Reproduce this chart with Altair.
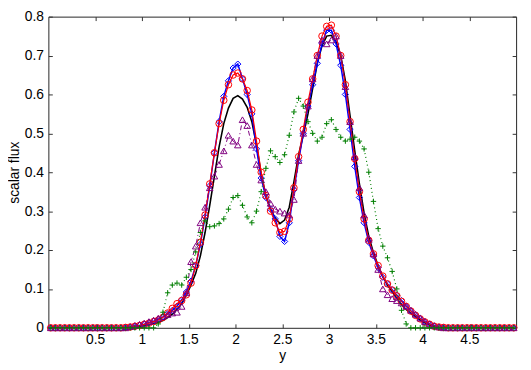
import altair as alt
import pandas as pd

# sample positions (cell centres)
x_pos = [round(0.025 + 0.05 * k, 3) for k in range(100)]

exact = [
    0, 0, 0, 0, 0, 0, 0, 0, 0, 0,
    0, 0, 0, 0, 0, 0, 0, 0.0, 0.002, 0.004,
    0.006, 0.008, 0.011, 0.014, 0.019, 0.026, 0.035, 0.048, 0.062, 0.084,
    0.11, 0.14, 0.185, 0.245, 0.315, 0.39, 0.465, 0.525, 0.565, 0.59,
    0.597, 0.588, 0.567, 0.53, 0.47, 0.395, 0.34, 0.305, 0.282, 0.268,
    0.277, 0.31, 0.375, 0.445, 0.495, 0.55, 0.615, 0.68, 0.725, 0.75,
    0.752, 0.735, 0.70, 0.635, 0.545, 0.455, 0.37, 0.295, 0.235, 0.193,
    0.16, 0.132, 0.11, 0.093, 0.076, 0.06, 0.047, 0.037, 0.029, 0.02,
    0.013, 0.007, 0.002, 0, 0, 0, 0, 0, 0, 0,
    0, 0, 0, 0, 0, 0, 0, 0, 0, 0,
]

blue_vals = [
    0, 0, 0, 0, 0, 0, 0, 0, 0, 0,
    0, 0, 0, 0, 0, 0, 0.001, 0.002, 0.003, 0.006,
    0.009, 0.013, 0.017, 0.022, 0.028, 0.036, 0.045, 0.056, 0.072, 0.092,
    0.12, 0.16, 0.215, 0.285, 0.365, 0.45, 0.53, 0.595, 0.635, 0.668,
    0.678, 0.64, 0.60, 0.55, 0.46, 0.385, 0.335, 0.305, 0.28, 0.235,
    0.222, 0.27, 0.355, 0.43, 0.5, 0.57, 0.625, 0.68, 0.73, 0.765,
    0.765, 0.73, 0.675, 0.6, 0.51, 0.415, 0.335, 0.27, 0.22, 0.185,
    0.155, 0.13, 0.113, 0.098, 0.084, 0.07, 0.056, 0.044, 0.033, 0.024,
    0.016, 0.01, 0.005, 0.002, 0.001, 0, 0, 0, 0, 0,
    0, 0, 0, 0, 0, 0, 0, 0, 0, 0,
]

red_vals = [
    0, 0, 0, 0, 0, 0, 0, 0, 0, 0,
    0, 0, 0, 0, 0, 0, 0.001, 0.002, 0.004, 0.006,
    0.009, 0.012, 0.016, 0.02, 0.027, 0.038, 0.05, 0.062, 0.07, 0.085,
    0.115, 0.16, 0.22, 0.29, 0.37, 0.45, 0.525, 0.585, 0.625, 0.65,
    0.655, 0.64, 0.61, 0.56, 0.48, 0.4, 0.34, 0.3, 0.27, 0.245,
    0.248, 0.28, 0.36, 0.44, 0.51, 0.58, 0.64, 0.7, 0.75, 0.775,
    0.778, 0.75, 0.7, 0.625, 0.53, 0.435, 0.35, 0.28, 0.225, 0.19,
    0.16, 0.133, 0.113, 0.097, 0.082, 0.068, 0.055, 0.043, 0.032, 0.023,
    0.015, 0.009, 0.004, 0.002, 0.001, 0, 0, 0, 0, 0,
    0, 0, 0, 0, 0, 0, 0, 0, 0, 0,
]

purple_vals = [
    0, 0, 0, 0, 0, 0, 0, 0, 0, 0,
    0, 0, 0, 0, 0, 0, 0, 0.003, 0.006, 0.009,
    0.012, 0.016, 0.02, 0.025, 0.03, 0.034, 0.038, 0.04, 0.055, 0.09,
    0.17, 0.21, 0.27, 0.31, 0.36, 0.39, 0.42, 0.455, 0.495, 0.48,
    0.47, 0.535, 0.52, 0.47, 0.42, 0.38, 0.35, 0.32, 0.305, 0.3,
    0.295, 0.29, 0.33, 0.43, 0.5, 0.57, 0.64, 0.7, 0.74, 0.73,
    0.74, 0.75, 0.7, 0.62, 0.53, 0.44, 0.36, 0.29, 0.23, 0.19,
    0.15, 0.1, 0.085, 0.075, 0.07, 0.064, 0.055, 0.045, 0.035, 0.025,
    0.016, 0.01, 0.005, 0.002, 0, 0, 0, 0, 0, 0,
    0, 0, 0, 0, 0, 0, 0, 0, 0, 0,
]

green_vals = [
    0, 0, 0, 0, 0, 0, 0, 0, 0, 0,
    0, 0, 0, 0, 0, 0, 0, 0, 0, 0,
    0, 0, 0, 0.01, 0.04, 0.09, 0.11, 0.115, 0.11, 0.13,
    0.15, 0.195, 0.245, 0.275, 0.26, 0.262, 0.268, 0.28, 0.305, 0.335,
    0.34, 0.315, 0.285, 0.27, 0.3, 0.35, 0.41, 0.455, 0.44, 0.425,
    0.445, 0.495, 0.555, 0.59, 0.57, 0.53, 0.5, 0.48, 0.49, 0.525,
    0.535, 0.51, 0.49, 0.48, 0.485, 0.49, 0.48, 0.46, 0.4, 0.325,
    0.255, 0.21, 0.18, 0.145, 0.1, 0.045, 0.01, 0, 0, 0,
    0, 0, 0, 0, 0, 0, 0, 0, 0, 0,
    0, 0, 0, 0, 0, 0, 0, 0, 0, 0,
]

x_ticks = [0.5, 1, 1.5, 2, 2.5, 3, 3.5, 4, 4.5]
y_ticks = [0, 0.1, 0.2, 0.3, 0.4, 0.5, 0.6, 0.7, 0.8]

FONT = "Liberation Sans"
xs = alt.Scale(domain=[0, 5], nice=False, zero=False)
ys = alt.Scale(domain=[0, 0.8], nice=False, zero=False)

PLUS = "M-1,0L1,0M0,-1L0,1"


def frame(vals):
    return pd.DataFrame({"x": x_pos, "v": vals})


def enc(xaxis=None, yaxis=None):
    return dict(
        x=alt.X("x:Q", scale=xs, axis=xaxis),
        y=alt.Y("v:Q", scale=ys, axis=yaxis),
    )


def line_layer(vals, color, width, dash=None, **ax):
    kw = dict(color=color, strokeWidth=width, clip=True)
    if dash is not None:
        kw["strokeDash"] = dash
    return alt.Chart(frame(vals)).mark_line(**kw).encode(**enc(**ax))


def point_layer(vals, color, shape, size):
    return alt.Chart(frame(vals)).mark_point(
        shape=shape, size=size, color=color, filled=False, strokeWidth=1, opacity=1
    ).encode(**enc())


common = dict(
    tickSize=4, offset=-4, domain=False, grid=False, tickColor="#333333",
    labelFont=FONT, titleFont=FONT, labelFontSize=14, titleFontSize=14,
    titleFontWeight="normal", labelColor="black", titleColor="black",
    labelFlush=False, labelOverlap=False,
)

bottom_axis = alt.Axis(orient="bottom", values=x_ticks, format="~g", title="y",
                       labelPadding=5, titlePadding=2, **common)
left_axis = alt.Axis(orient="left", values=y_ticks, format="~g", title="scalar flux",
                     labelPadding=5, titlePadding=3, **common)
top_axis = alt.Axis(orient="top", values=x_ticks, labels=False, title=None, **common)
right_axis = alt.Axis(orient="right", values=y_ticks, labels=False, title=None, **common)

axes_a = line_layer(exact, "black", 1.6, xaxis=bottom_axis, yaxis=left_axis)
axes_b = alt.Chart(frame(exact)).mark_point(opacity=0).encode(**enc(xaxis=top_axis, yaxis=right_axis))

layers = [
    axes_a,
    line_layer(blue_vals, "#0000ff", 1.5),
    point_layer(blue_vals, "#0000ff", "diamond", 40),
    line_layer(red_vals, "#ff0000", 1.2),
    point_layer(red_vals, "#ff0000", "circle", 44),
    line_layer(purple_vals, "#800080", 1, dash=[5, 3, 1, 3]),
    point_layer(purple_vals, "#800080", "triangle-up", 44),
    line_layer(green_vals, "#007f00", 1.2, dash=[1, 3]),
    point_layer(green_vals, "#007f00", PLUS, 30),
    axes_b,
]

chart = alt.layer(*layers).resolve_axis(x="independent", y="independent").properties(
    width=475, height=316,
    autosize=alt.AutoSizeParams(type="none"),
    padding={"left": 41, "top": 6, "right": 7, "bottom": 36},
).configure_view(stroke="#262626", strokeWidth=1)

chart.save("out.html", embed_options={"renderer": "svg", "actions": False})
